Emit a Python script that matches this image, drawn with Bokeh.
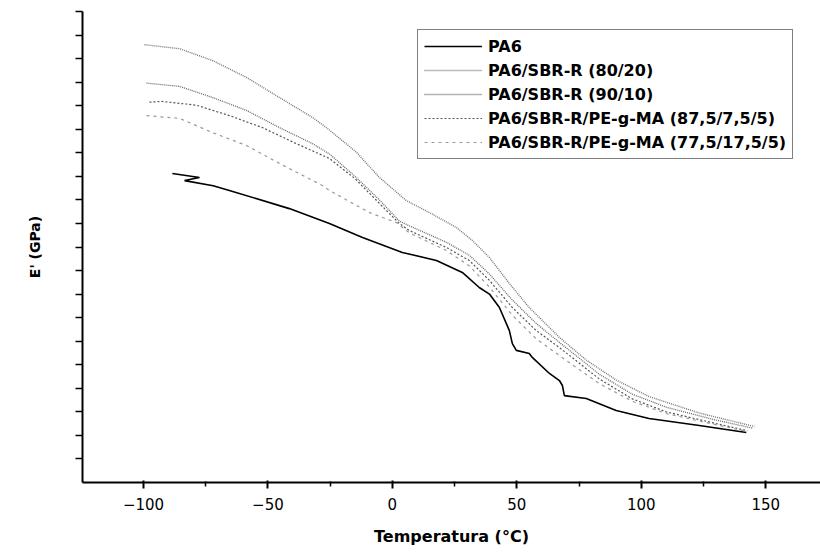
from bokeh.plotting import figure
from bokeh.models import FixedTicker, Legend, LegendItem, Range1d
from bokeh.embed import file_html
from bokeh.resources import INLINE

# ---- data (Temperature °C, E' in relative units) ----
pa6_x = [-88.4, -77.5, -83.5, -72.0, -65.5, -41.4, -25.3, -12.0, 4.0, 17.7, 28.1,
         34.9, 39.0, 43.0, 47.0, 48.2, 49.8, 55.0, 56.2, 63.1, 67.1, 68.3, 69.1,
         77.9, 89.9, 103.1, 123.3, 142.2]
pa6_y = [13.12, 12.95, 12.82, 12.6, 12.40, 11.63, 11.00, 10.40, 9.77, 9.43, 8.92,
         8.28, 8.0, 7.43, 6.45, 5.90, 5.61, 5.48, 5.31, 4.63, 4.33, 4.12, 3.69,
         3.57, 3.06, 2.72, 2.42, 2.12]

s8020_x = [-99.6, -85.5, -72.3, -58.6, -45.4, -32.1, -26.5, -14.5, -5.2, 5.6, 14.9,
           25.7, 32.1, 39.0, 47.0, 55.0, 67.1, 77.9, 89.9, 103.1, 123.3, 145.4]
s8020_y = [18.59, 18.42, 17.92, 17.20, 16.35, 15.50, 15.07, 14.03, 12.95, 11.97, 11.46,
           10.83, 10.28, 9.55, 8.45, 7.43, 6.16, 5.2, 4.35, 3.65, 2.95, 2.38]

s9010_x = [-98.8, -85.5, -72.3, -58.6, -45.4, -32.1, -25.3, -15.0, -5.2, 2.8, 6.8,
           21.7, 30.9, 39.0, 48.2, 57.8, 67.1, 83.1, 96.4, 110.0, 130.1, 145.0]
s9010_y = [16.96, 16.82, 16.35, 15.80, 15.07, 14.39, 13.95, 13.0, 12.0, 11.1, 10.9,
           10.2, 9.65, 8.85, 7.75, 6.75, 5.95, 4.6, 3.75, 3.2, 2.65, 2.3]

s875_x = [-97.6, -92.4, -78.7, -65.5, -52.2, -38.6, -25.3, -15.0, -5.2, 2.8, 6.8,
          21.7, 30.9, 39.0, 48.2, 57.8, 67.1, 83.1, 96.4, 110.0, 130.1, 142.6]
s875_y = [16.15, 16.18, 16.02, 15.58, 15.07, 14.39, 13.76, 12.9, 11.85, 11.0, 10.70,
          9.98, 9.43, 8.58, 7.43, 6.45, 5.73, 4.4, 3.55, 3.0, 2.5, 2.2]

s775_x = [-98.8, -85.5, -72.3, -58.6, -45.4, -28.1, -25.3, -9.2, 1.6, 6.8, 21.7,
          30.9, 39.0, 48.2, 57.8, 69.9, 83.1, 96.4, 110.0, 130.1, 142.6]
s775_y = [15.58, 15.46, 14.86, 14.31, 13.55, 12.61, 12.40, 11.46, 11.04, 10.6, 9.85,
          9.2, 8.3, 7.1, 6.1, 5.18, 4.2, 3.45, 2.93, 2.45, 2.17]

labels = ["PA6", "PA6/SBR-R (80/20)", "PA6/SBR-R (90/10)",
          "PA6/SBR-R/PE-g-MA (87,5/7,5/5)", "PA6/SBR-R/PE-g-MA (77,5/17,5/5)"]
x_ticks = [-100, -50, 0, 50, 100, 150]
x_minor = [-75, -25, 25, 75, 125]
y_ticks = [1, 2, 3, 4, 5, 6, 7, 8, 9, 10, 11, 12, 13, 14, 15, 16, 17, 18, 19, 20]

p = figure(width=820, height=550, output_backend="svg", toolbar_location=None,
           x_range=Range1d(-124.5, 172), y_range=Range1d(0, 20),
           min_border_left=82, min_border_right=0, min_border_top=11, min_border_bottom=68)
p.outline_line_color = None
p.grid.visible = False
p.background_fill_color = "white"

r0 = p.line(pa6_x, pa6_y, line_color="black", line_width=1.6)
r1 = p.line(s8020_x, s8020_y, line_color="#777777", line_width=1.4, line_dash="1 1")
r2 = p.line(s9010_x, s9010_y, line_color="#666666", line_width=1.3, line_dash="1 1")
r3 = p.line(s875_x, s875_y, line_color="#555555", line_width=1.2, line_dash="2 2")
r4 = p.line(s775_x, s775_y, line_color="#999999", line_width=1.2, line_dash="3 4")

# x axis
xa = p.xaxis[0]
xa.ticker = FixedTicker(ticks=x_ticks, minor_ticks=x_minor)
xa.axis_label = "Temperatura (°C)"
xa.axis_label_text_font = "DejaVu Sans"
xa.axis_label_text_font_style = "bold"
xa.axis_label_text_font_size = "16px"
xa.axis_label_text_color = "black"
xa.axis_label_standoff = 14
xa.major_label_text_font = "DejaVu Sans"
xa.major_label_text_font_size = "15px"
xa.major_label_text_color = "black"
xa.major_label_standoff = 9
xa.axis_line_width = 2
xa.major_tick_out = 6
xa.major_tick_in = 2
xa.minor_tick_out = 4
xa.minor_tick_in = 1
xa.major_tick_line_width = 2
xa.minor_tick_line_width = 1.5

# y axis (no tick labels in the original): ticks only, drawn as minor ticks
ya = p.yaxis[0]
ya.ticker = FixedTicker(ticks=[], minor_ticks=y_ticks)
ya.axis_label = "E' (GPa)"
ya.axis_label_text_font = "DejaVu Sans"
ya.axis_label_text_font_style = "bold"
ya.axis_label_text_font_size = "14px"
ya.axis_label_text_color = "black"
ya.axis_label_standoff = 33
ya.axis_line_width = 2
ya.minor_tick_out = 7
ya.minor_tick_in = 0
ya.minor_tick_line_width = 1.5

legend = Legend(items=[LegendItem(label=l, renderers=[r]) for l, r in
                       zip(labels, [r0, r1, r2, r3, r4])],
                location=(335, 323))
legend.label_text_font = "DejaVu Sans"
legend.label_text_font_style = "bold"
legend.label_text_font_size = "16px"
legend.label_text_color = "black"
legend.label_height = 20
legend.glyph_height = 20
legend.glyph_width = 58
legend.label_standoff = 6
legend.spacing = 4
legend.padding = 6
legend.margin = 0
legend.border_line_color = "black"
legend.border_line_width = 1.2
legend.background_fill_alpha = 1
p.add_layout(legend)

open("out.html", "w").write(file_html(p, INLINE))
